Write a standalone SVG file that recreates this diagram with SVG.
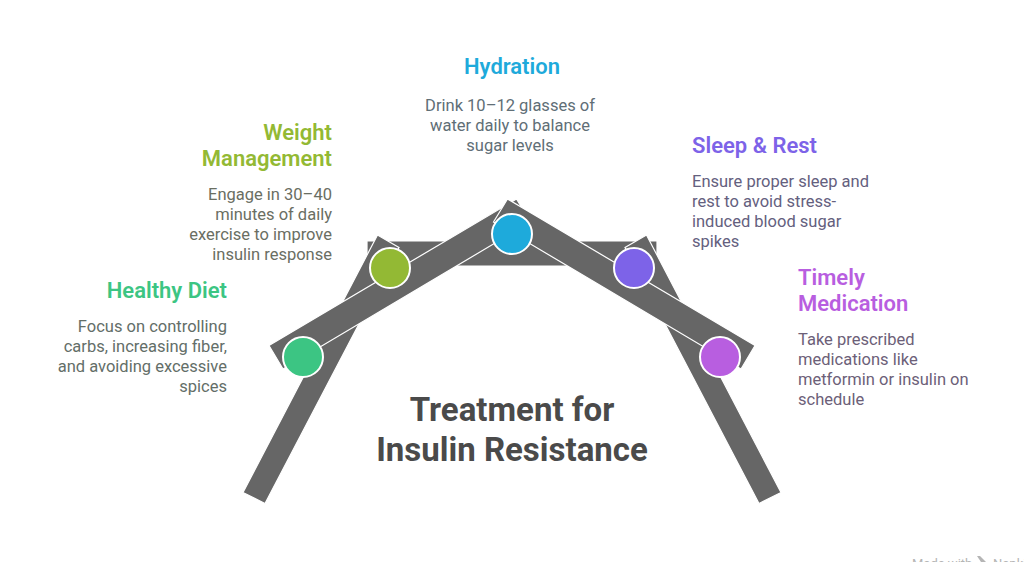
<svg xmlns="http://www.w3.org/2000/svg" width="1024" height="562" viewBox="0 0 1024 562">
<style>
text{font-family:Roboto,"Liberation Sans",sans-serif}
.h{font-size:22px;font-weight:600}
.b{font-size:16.5px}
.e{text-anchor:end}.m{text-anchor:middle}
.t{font-size:33px;font-weight:700;fill:#4a4a4a;text-anchor:middle}
.beam{fill:#666666;stroke:#ffffff;stroke-width:1.2;stroke-linejoin:miter}
.dot{stroke:#ffffff;stroke-width:2}
.w{font-size:13px;fill:#b5b5b5}
</style>
<rect width="1024" height="562" fill="#ffffff"/>
<g id="connectors">
<polygon class="beam" points="367,241 657,241 657,266 367,266"/>
<polygon class="beam" points="243,492.500 265,503.500 399,247.500 377.500,235"/>
<polygon class="beam" points="781,492.500 759,503.500 625,247.500 646.500,235"/>
<polygon class="beam" points="269,345.500 283,369 530.500,222 516.500,199"/>
<polygon class="beam" points="755,345.500 741,369 493.500,222 507.500,199"/>
</g>
<g id="healthy-diet">
<circle class="dot" cx="303" cy="357" r="20" fill="#3cc583"/>
<text class="h e" x="227" y="298" fill="#3cc583">Healthy Diet</text>
<text class="b e" fill="#636e68"><tspan x="227" y="332">Focus on controlling</tspan><tspan x="227" y="352">carbs, increasing fiber,</tspan><tspan x="227" y="372">and avoiding excessive</tspan><tspan x="227" y="392">spices</tspan></text>
</g>
<g id="weight-management">
<circle class="dot" cx="390" cy="268" r="20" fill="#93b934"/>
<text class="h e" fill="#93b934"><tspan x="332" y="140">Weight</tspan><tspan x="332" y="166">Management</tspan></text>
<text class="b e" fill="#6a6e62"><tspan x="332" y="200">Engage in 30–40</tspan><tspan x="332" y="220">minutes of daily</tspan><tspan x="332" y="240">exercise to improve</tspan><tspan x="332" y="260">insulin response</tspan></text>
</g>
<g id="hydration">
<circle class="dot" cx="512" cy="234" r="20" fill="#1eaadb"/>
<text class="h m" x="512" y="74" fill="#1eaadb">Hydration</text>
<text class="b m" fill="#606e76"><tspan x="510" y="111">Drink 10–12 glasses of</tspan><tspan x="510" y="131">water daily to balance</tspan><tspan x="510" y="151">sugar levels</tspan></text>
</g>
<g id="sleep-rest">
<circle class="dot" cx="634" cy="268" r="20" fill="#7d63e8"/>
<text class="h" x="692" y="153" fill="#7d63e8">Sleep &amp; Rest</text>
<text class="b" fill="#64607e"><tspan x="692" y="187">Ensure proper sleep and</tspan><tspan x="692" y="207">rest to avoid stress-</tspan><tspan x="692" y="227">induced blood sugar</tspan><tspan x="692" y="247">spikes</tspan></text>
</g>
<g id="timely-medication">
<circle class="dot" cx="720" cy="357" r="20" fill="#b85ee0"/>
<text class="h" fill="#b85ee0"><tspan x="798" y="285">Timely</tspan><tspan x="798" y="311">Medication</tspan></text>
<text class="b" fill="#6c6078"><tspan x="798" y="345">Take prescribed</tspan><tspan x="798" y="365">medications like</tspan><tspan x="798" y="385">metformin or insulin on</tspan><tspan x="798" y="405">schedule</tspan></text>
</g>
<g id="title">
<text class="t" x="512" y="421">Treatment for</text>
<text class="t" x="512" y="461">Insulin Resistance</text>
</g>
<g id="watermark">
<text class="w" x="912" y="568">Made with</text>
<path d="M977 556 L981 562 L986 562 L980 556 Z" fill="#b5b5b5"/>
<text class="w" x="993" y="568">Napkin</text>
</g>
</svg>
